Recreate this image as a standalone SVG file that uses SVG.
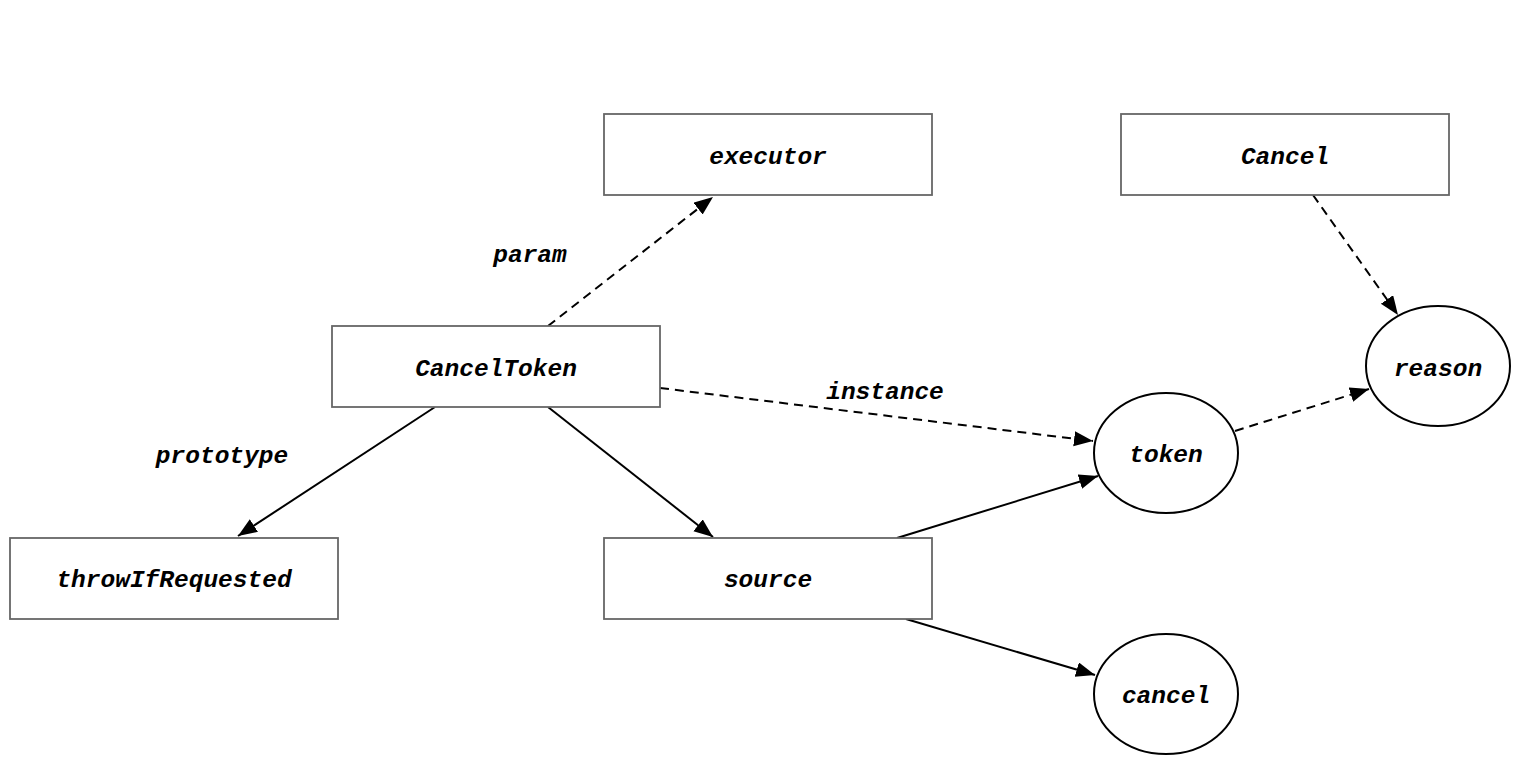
<svg xmlns="http://www.w3.org/2000/svg" width="1538" height="772" viewBox="0 0 1538 772">
<style>
text{font-family:"Liberation Mono","Courier New",monospace;font-style:italic;font-weight:bold;font-size:24.5px;fill:#000;text-anchor:middle;dominant-baseline:central}
.box{fill:#fff;stroke:#666;stroke-width:1.8}
.ell{fill:#fff;stroke:#000;stroke-width:2}
.e{fill:none;stroke:#000;stroke-width:2}
.d{stroke-dasharray:9,6}
</style>
<defs>
<marker id="ah" markerUnits="userSpaceOnUse" markerWidth="20" markerHeight="16" refX="19" refY="7.5" orient="auto">
<path d="M0,0 L19,7.5 L0,15 Z" fill="#000"/>
</marker>
</defs>
<rect width="1538" height="772" fill="#fff"/>
<g id="connectors">
<line class="e d" x1="548" y1="326" x2="713" y2="197" marker-end="url(#ah)"/>
<line class="e d" x1="660" y1="388" x2="1093" y2="441" marker-end="url(#ah)"/>
<line class="e" x1="435" y1="407" x2="238" y2="536" marker-end="url(#ah)"/>
<line class="e" x1="548" y1="407" x2="713" y2="537" marker-end="url(#ah)"/>
<line class="e" x1="897" y1="538" x2="1098" y2="476" marker-end="url(#ah)"/>
<line class="e" x1="906" y1="619" x2="1095" y2="675" marker-end="url(#ah)"/>
<line class="e d" x1="1313" y1="195" x2="1398" y2="315" marker-end="url(#ah)"/>
<line class="e d" x1="1235" y1="431" x2="1369" y2="389" marker-end="url(#ah)"/>
<text x="530" y="255">param</text>
<text x="885" y="392">instance</text>
<text x="222" y="456">prototype</text>
</g>
<g id="executor"><rect class="box" x="604" y="114" width="328" height="81"/><text x="768" y="157">executor</text></g>
<g id="Cancel"><rect class="box" x="1121" y="114" width="328" height="81"/><text x="1285" y="157">Cancel</text></g>
<g id="CancelToken"><rect class="box" x="332" y="326" width="328" height="81"/><text x="496" y="369">CancelToken</text></g>
<g id="throwIfRequested"><rect class="box" x="10" y="538" width="328" height="81"/><text x="174" y="580">throwIfRequested</text></g>
<g id="source"><rect class="box" x="604" y="538" width="328" height="81"/><text x="768" y="580">source</text></g>
<g id="token"><ellipse class="ell" cx="1166" cy="453" rx="72" ry="60"/><text x="1166" y="455">token</text></g>
<g id="reason"><ellipse class="ell" cx="1438" cy="366" rx="72" ry="60"/><text x="1438" y="369">reason</text></g>
<g id="cancel"><ellipse class="ell" cx="1166" cy="694" rx="72" ry="60"/><text x="1166" y="696">cancel</text></g>
</svg>
